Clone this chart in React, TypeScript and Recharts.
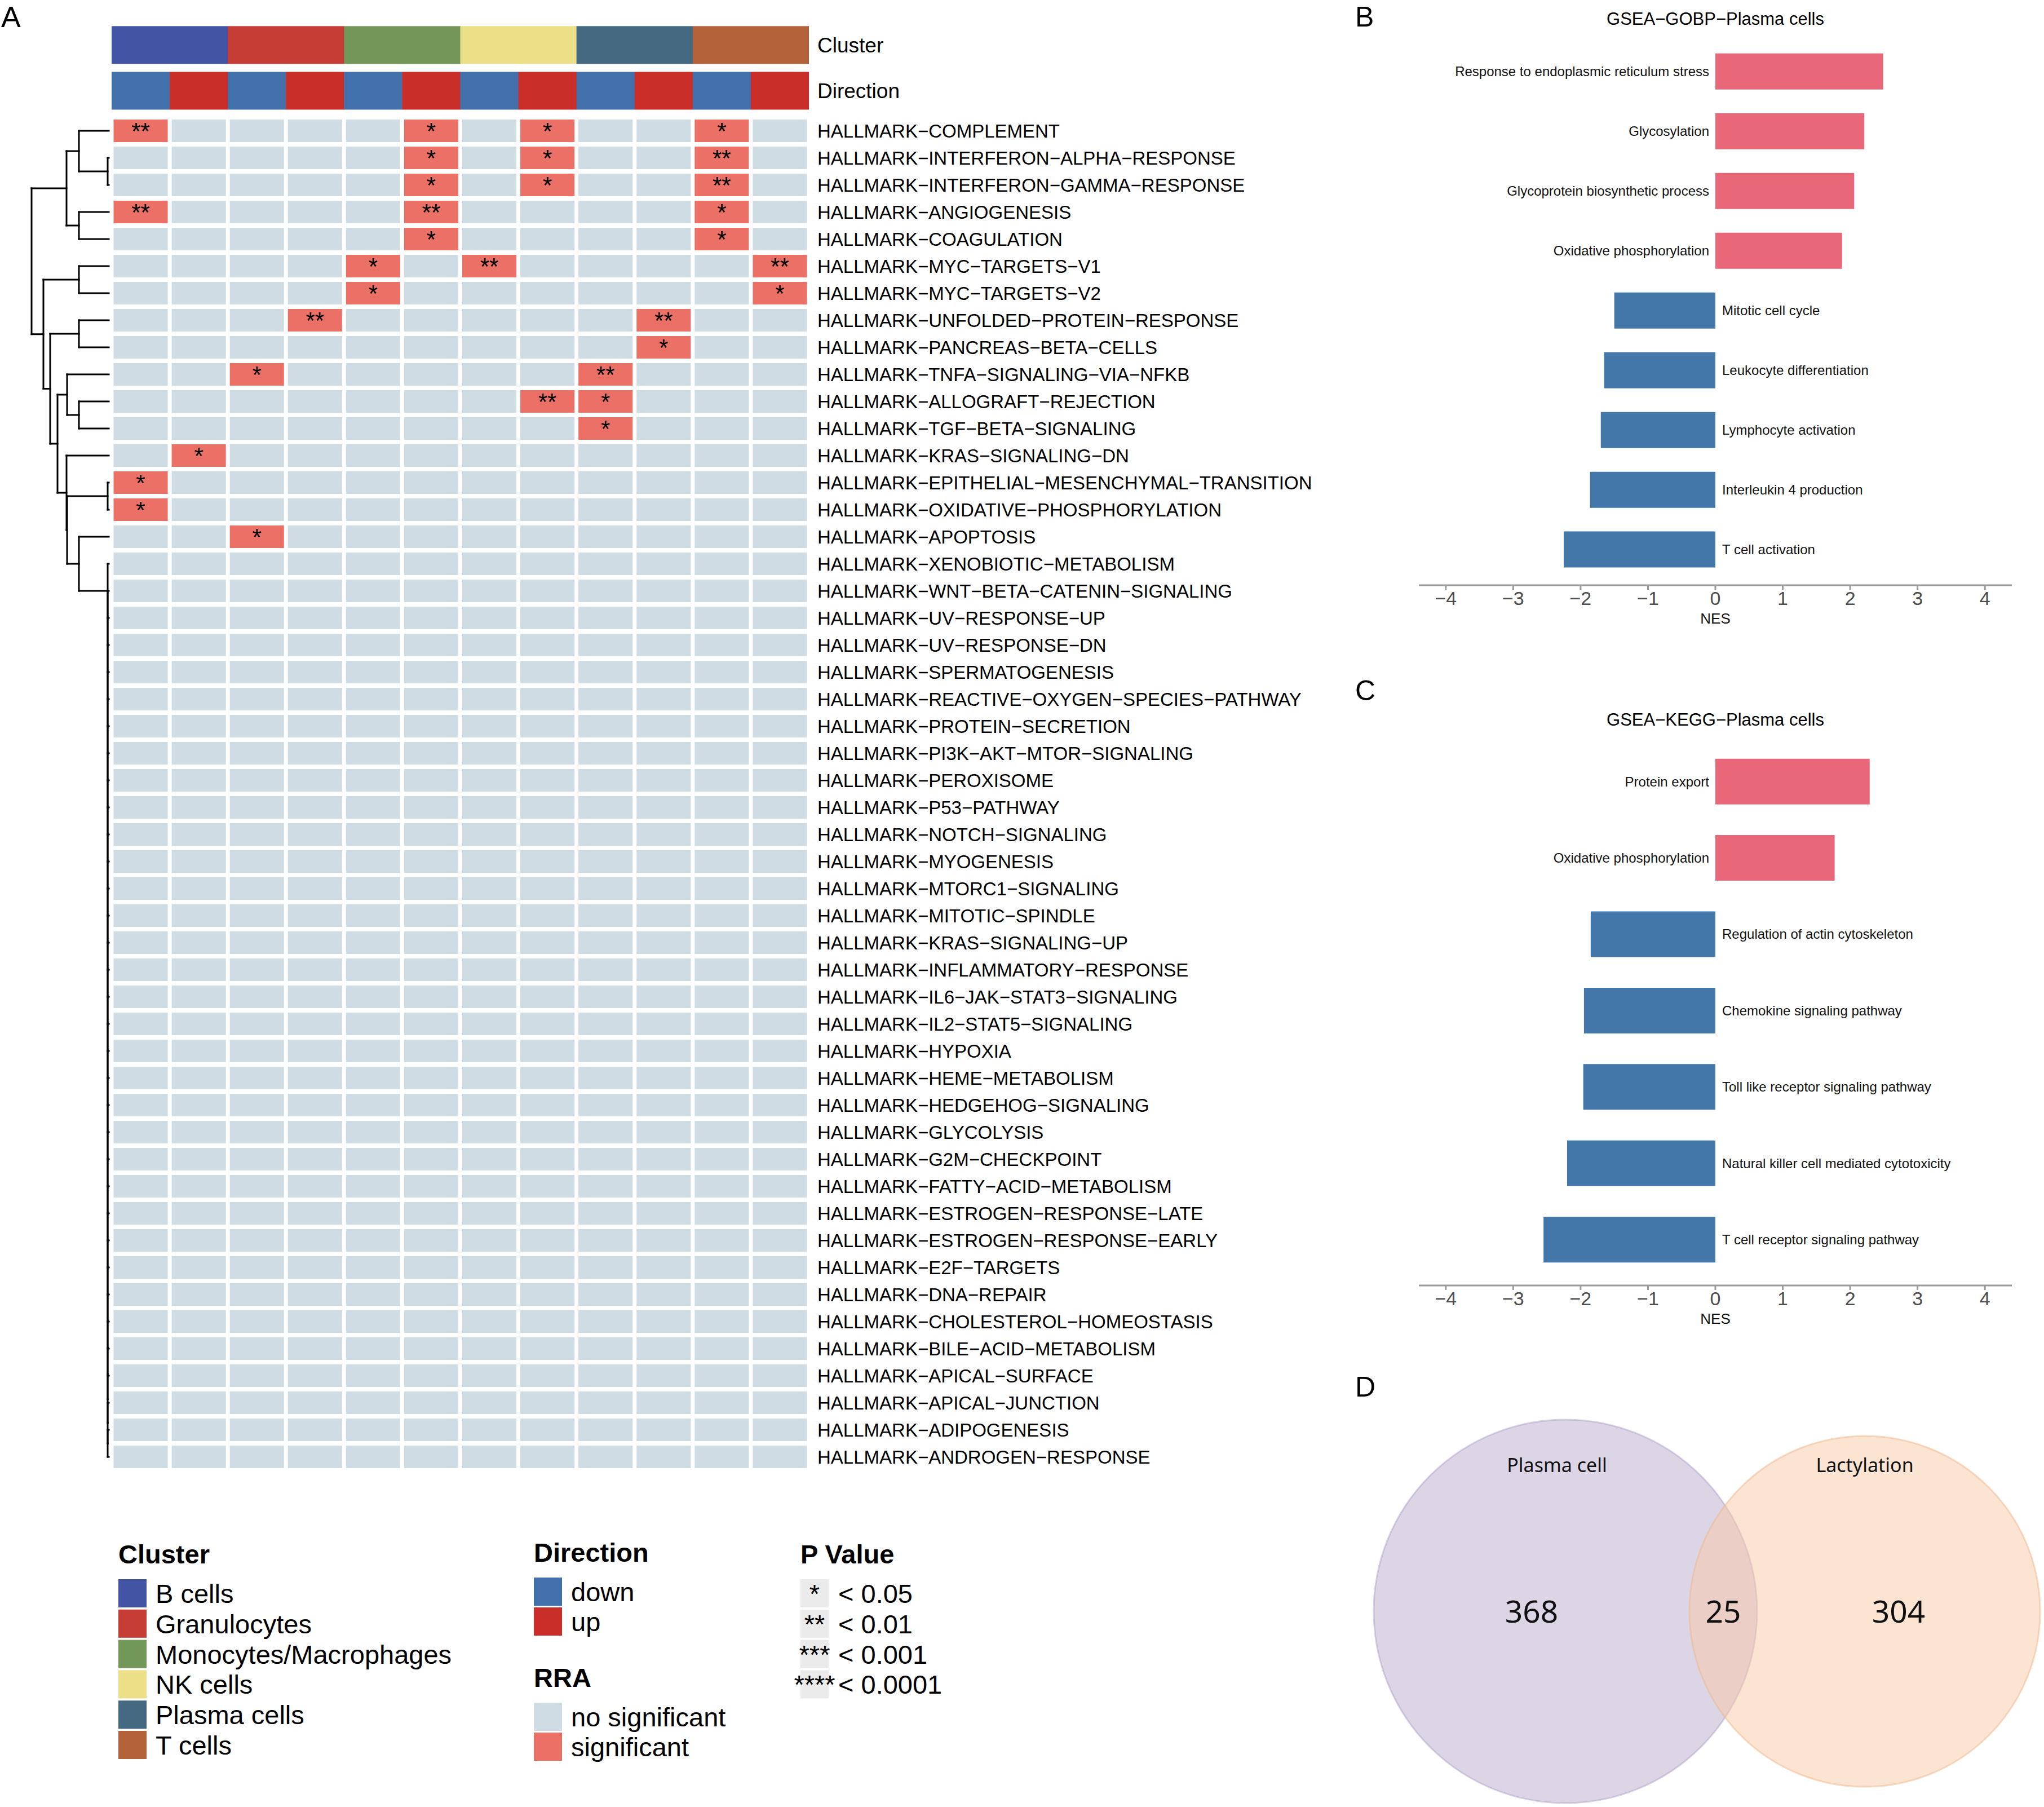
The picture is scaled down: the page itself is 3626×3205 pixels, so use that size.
import React from "react";
import {
  Bar,
  BarChart,
  Cell,
  Label,
  LabelList,
  ReferenceLine,
  Scatter,
  ScatterChart,
  XAxis,
  YAxis,
} from "recharts";

const FONT = "'Liberation Sans', Arial, Helvetica, sans-serif";
const VENN_FONT = "'Noto Sans', 'Open Sans', sans-serif";

// ---------- panel A data ----------
const pathways = [
  "HALLMARK-COMPLEMENT",
  "HALLMARK-INTERFERON-ALPHA-RESPONSE",
  "HALLMARK-INTERFERON-GAMMA-RESPONSE",
  "HALLMARK-ANGIOGENESIS",
  "HALLMARK-COAGULATION",
  "HALLMARK-MYC-TARGETS-V1",
  "HALLMARK-MYC-TARGETS-V2",
  "HALLMARK-UNFOLDED-PROTEIN-RESPONSE",
  "HALLMARK-PANCREAS-BETA-CELLS",
  "HALLMARK-TNFA-SIGNALING-VIA-NFKB",
  "HALLMARK-ALLOGRAFT-REJECTION",
  "HALLMARK-TGF-BETA-SIGNALING",
  "HALLMARK-KRAS-SIGNALING-DN",
  "HALLMARK-EPITHELIAL-MESENCHYMAL-TRANSITION",
  "HALLMARK-OXIDATIVE-PHOSPHORYLATION",
  "HALLMARK-APOPTOSIS",
  "HALLMARK-XENOBIOTIC-METABOLISM",
  "HALLMARK-WNT-BETA-CATENIN-SIGNALING",
  "HALLMARK-UV-RESPONSE-UP",
  "HALLMARK-UV-RESPONSE-DN",
  "HALLMARK-SPERMATOGENESIS",
  "HALLMARK-REACTIVE-OXYGEN-SPECIES-PATHWAY",
  "HALLMARK-PROTEIN-SECRETION",
  "HALLMARK-PI3K-AKT-MTOR-SIGNALING",
  "HALLMARK-PEROXISOME",
  "HALLMARK-P53-PATHWAY",
  "HALLMARK-NOTCH-SIGNALING",
  "HALLMARK-MYOGENESIS",
  "HALLMARK-MTORC1-SIGNALING",
  "HALLMARK-MITOTIC-SPINDLE",
  "HALLMARK-KRAS-SIGNALING-UP",
  "HALLMARK-INFLAMMATORY-RESPONSE",
  "HALLMARK-IL6-JAK-STAT3-SIGNALING",
  "HALLMARK-IL2-STAT5-SIGNALING",
  "HALLMARK-HYPOXIA",
  "HALLMARK-HEME-METABOLISM",
  "HALLMARK-HEDGEHOG-SIGNALING",
  "HALLMARK-GLYCOLYSIS",
  "HALLMARK-G2M-CHECKPOINT",
  "HALLMARK-FATTY-ACID-METABOLISM",
  "HALLMARK-ESTROGEN-RESPONSE-LATE",
  "HALLMARK-ESTROGEN-RESPONSE-EARLY",
  "HALLMARK-E2F-TARGETS",
  "HALLMARK-DNA-REPAIR",
  "HALLMARK-CHOLESTEROL-HOMEOSTASIS",
  "HALLMARK-BILE-ACID-METABOLISM",
  "HALLMARK-APICAL-SURFACE",
  "HALLMARK-APICAL-JUNCTION",
  "HALLMARK-ADIPOGENESIS",
  "HALLMARK-ANDROGEN-RESPONSE",
];

const clusters = ["B cells", "Granulocytes", "Monocytes/Macrophages", "NK cells", "Plasma cells", "T cells"];
const clusterColors = ["#4354A4", "#C53D35", "#739758", "#EBDF88", "#44687F", "#B3623A"];
const directions = ["down", "up"];
const directionColors = ["#4170AB", "#CA2E28"];
const rraLevels = ["no significant", "significant"];
const rraColors = ["#CFDCE4", "#EB7167"];
const pLevels = [
  ["*", "< 0.05"],
  ["**", "< 0.01"],
  ["***", "< 0.001"],
  ["****", "< 0.0001"],
];

// [row, column, stars]; column = cluster * 2 + direction
const sigCells: [number, number, string][] = [
  [0, 0, "**"], [0, 5, "*"], [0, 7, "*"], [0, 10, "*"],
  [1, 5, "*"], [1, 7, "*"], [1, 10, "**"],
  [2, 5, "*"], [2, 7, "*"], [2, 10, "**"],
  [3, 0, "**"], [3, 5, "**"], [3, 10, "*"],
  [4, 5, "*"], [4, 10, "*"],
  [5, 4, "*"], [5, 6, "**"], [5, 11, "**"],
  [6, 4, "*"], [6, 11, "*"],
  [7, 3, "**"], [7, 9, "**"],
  [8, 9, "*"],
  [9, 2, "*"], [9, 8, "**"],
  [10, 7, "**"], [10, 8, "*"],
  [11, 8, "*"],
  [12, 1, "*"],
  [13, 0, "*"],
  [14, 0, "*"],
  [15, 2, "*"],
];

// ---------- panel B / C data ----------
const gobpTerms = [
  "Response to endoplasmic reticulum stress",
  "Glycosylation",
  "Glycoprotein biosynthetic process",
  "Oxidative phosphorylation",
  "Mitotic cell cycle",
  "Leukocyte differentiation",
  "Lymphocyte activation",
  "Interleukin 4 production",
  "T cell activation",
];
const gobpNes = [2.49, 2.21, 2.06, 1.88, -1.5, -1.65, -1.7, -1.86, -2.25];

const keggTerms = [
  "Protein export",
  "Oxidative phosphorylation",
  "Regulation of actin cytoskeleton",
  "Chemokine signaling pathway",
  "Toll like receptor signaling pathway",
  "Natural killer cell mediated cytotoxicity",
  "T cell receptor signaling pathway",
];
const keggNes = [2.29, 1.77, -1.85, -1.95, -1.96, -2.2, -2.55];

const nesTicks = [-4, -3, -2, -1, 0, 1, 2, 3, 4];

// ---------- panel D data ----------
const vennNames = ["Plasma cell", "Lactylation"];
const vennOnly = [368, 304];
const vennShared = 25;

// ---------- layout ----------
const COL_PX = 1237 / 12;
const ROW_PX = 48;
const CLUSTER_ROW = -3.17;
const DIRECTION_ROW = -1.48;
const ANNOT_H = 67;
const ROW_DOMAIN: [number, number] = [-4.5, 49.5];
const HM_TOP = 16;
const HM_H = HM_TOP + ROW_PX * 54;

const minus = (s: string) => s.replace(/-/g, "\u2212");

const cellData = pathways.flatMap((_, r) =>
  clusters.flatMap((_c, k) =>
    directions.map((_d, j) => {
      const c = k * 2 + j;
      const hit = sigCells.find((s) => s[0] === r && s[1] === c);
      return { x: c, y: r, stars: hit ? hit[2] : "" };
    })
  )
);
const clusterBand = clusters.map((_, k) => ({ x: k * 2 + 0.5, y: CLUSTER_ROW, span: 2, fill: clusterColors[k] }));
const directionBand = clusters.flatMap((_, k) =>
  directions.map((_d, j) => ({ x: k * 2 + j, y: DIRECTION_ROW, span: 1, fill: directionColors[j] }))
);

const cellShape = (p: any) => {
  const w = COL_PX - 7;
  const h = ROW_PX - 8;
  const sig = p.payload.stars !== "";
  return (
    <g>
      <rect x={p.cx - w / 2} y={p.cy - h / 2} width={w} height={h} fill={sig ? rraColors[1] : rraColors[0]} />
      {sig && (
        <text x={p.cx} y={p.cy + 15} textAnchor="middle" fontSize={42} fontFamily={FONT} fill="#000">
          {p.payload.stars}
        </text>
      )}
    </g>
  );
};

const annotShape = (p: any) => {
  const w = p.payload.span * COL_PX;
  return <rect x={p.cx - w / 2} y={p.cy - ANNOT_H / 2} width={w + 0.5} height={ANNOT_H} fill={p.payload.fill} />;
};

const rowTick = (p: any) => {
  const v = p.payload.value;
  const annot = v === CLUSTER_ROW ? "Cluster" : v === DIRECTION_ROW ? "Direction" : null;
  const text = annot ?? minus(pathways[v]);
  return (
    <text x={p.x} y={p.y} dy="0.36em" fontSize={annot ? 37 : 33} fontFamily={FONT} fill="#000" textAnchor="start">
      {text}
    </text>
  );
};

// ---------- dendrogram ----------
type Node = { h: number; leaf?: number; kids?: Node[] };
const L = (i: number): Node => ({ h: 0, leaf: i });
const J = (h: number, a: Node, b: Node): Node => ({ h, kids: [a, b] });
let restChain: Node = L(49);
for (let i = 48; i >= 16; i--) restChain = J(0.02, L(i), restChain);
const tree = J(
  1.37,
  J(0.75, J(0.53, L(0), J(0.02, L(1), L(2))), J(0.53, L(3), L(4))),
  J(
    1.16,
    J(0.53, L(5), L(6)),
    J(
      1.04,
      J(0.53, L(7), L(8)),
      J(
        0.91,
        J(0.74, L(9), J(0.53, L(10), L(11))),
        J(0.75, L(12), J(0.74, J(0.02, L(13), L(14)), J(0.53, L(15), restChain)))
      )
    )
  )
);
const segs: { x1: number; y1: number; x2: number; y2: number }[] = [];
const place = (n: Node): number => {
  if (n.leaf !== undefined) return n.leaf;
  const ys = n.kids!.map((k) => {
    const y = place(k);
    segs.push({ x1: k.h, y1: y, x2: n.h, y2: y });
    return y;
  });
  segs.push({ x1: n.h, y1: Math.min(...ys), x2: n.h, y2: Math.max(...ys) });
  return ys.reduce((a, b) => a + b, 0) / ys.length;
};
place(tree);
const leafPts = pathways.map((_, i) => ({ x: 0, y: i }));

// ---------- GSEA bars ----------
const GseaChart = ({ terms, nes, top }: { terms: string[]; nes: number[]; top: number }) => {
  const data = terms.map((t, i) => ({ term: t, nes: nes[i] }));
  const pad = (975 / (terms.length + 0.2)) * 0.1;
  const termLabel = (p: any) => {
    const v = data[p.index].nes;
    const zero = v >= 0 ? Math.min(p.x, p.x + p.width) : Math.max(p.x, p.x + p.width);
    return (
      <text
        x={v >= 0 ? zero - 11 : zero + 12}
        y={p.y + p.height / 2}
        dy="0.35em"
        textAnchor={v >= 0 ? "end" : "start"}
        fontSize={24}
        fontFamily={FONT}
        fill="#111"
      >
        {p.value}
      </text>
    );
  };
  return (
    <BarChart
      width={1226}
      height={top + 975 + 80}
      layout="vertical"
      data={data}
      margin={{ top, right: 57, left: 117, bottom: 0 }}
      barCategoryGap="20%"
    >
      <XAxis
        type="number"
        dataKey="nes"
        domain={[-4.4, 4.4]}
        ticks={nesTicks}
        allowDataOverflow
        tickFormatter={(v: number) => minus(String(v))}
        axisLine={{ stroke: "#9B9B9B", strokeWidth: 3 }}
        tickLine={{ stroke: "#9B9B9B", strokeWidth: 3 }}
        tickSize={8}
        tickMargin={3}
        tick={{ fill: "#4D4D4D", fontSize: 34, fontFamily: FONT }}
        height={80}
      >
        <Label value="NES" position="insideBottom" offset={12} style={{ fontSize: 26, fill: "#111", fontFamily: FONT }} />
      </XAxis>
      <YAxis type="category" dataKey="term" hide padding={{ top: pad, bottom: pad }} />
      <Bar dataKey="nes" isAnimationActive={false}>
        {data.map((d, i) => (
          <Cell key={i} fill={d.nes >= 0 ? "#E8687A" : "#4477A9"} />
        ))}
        <LabelList dataKey="term" content={termLabel} />
      </Bar>
    </BarChart>
  );
};

// ---------- Venn ----------
const vennTotals = vennOnly.map((v) => v + vennShared);
const vennR = vennTotals.map((t) => 17.15 * Math.sqrt(t));
const VENN_LEFT = 37;
const VENN_CY = 378;
const VENN_OVERLAP = 120;
const vennCx = [VENN_LEFT + vennR[0], VENN_LEFT + vennR[0] + vennR[0] + vennR[1] - VENN_OVERLAP];
const vennFills = ["rgba(185,171,205,0.5)", "rgba(249,201,165,0.5)"];
const vennStrokes = ["rgba(170,155,198,0.45)", "rgba(238,184,142,0.5)"];
const vennCircles = vennNames.map((n, i) => ({ x: vennCx[i], y: VENN_CY, r: vennR[i], name: n, i }));
const lensL = vennCx[1] - vennR[1];
const lensR = vennCx[0] + vennR[0];
const vennCounts = [
  { x: (vennCx[0] - vennR[0] + lensL) / 2, y: VENN_CY, text: String(vennOnly[0]) },
  { x: (lensL + lensR) / 2, y: VENN_CY, text: String(vennShared) },
  { x: (lensR + vennCx[1] + vennR[1]) / 2, y: VENN_CY, text: String(vennOnly[1]) },
];
const circleShape = (p: any) => (
  <g>
    <circle cx={p.cx} cy={p.cy} r={p.payload.r} fill={vennFills[p.payload.i]} stroke={vennStrokes[p.payload.i]} strokeWidth={3} />
    <text x={p.cx - (p.payload.i === 0 ? 15 : 0)} y={p.cy - 259} dy="0.35em" textAnchor="middle" fontSize={34} fontFamily={VENN_FONT} fill="#111">
      {p.payload.name}
    </text>
  </g>
);
const countShape = (p: any) => (
  <text x={p.cx} y={p.cy} dy="0.36em" textAnchor="middle" fontSize={55} fontFamily={VENN_FONT} fill="#111">
    {p.payload.text}
  </text>
);

const abs = (left: number, top: number): React.CSSProperties => ({ position: "absolute", left, top });

const App = () => {
  return (
    <div style={{ position: "absolute", left: 0, top: 0, width: 3626, height: 3205, overflow: "hidden", background: "#fff" }}>
      {/* dendrogram */}
      <div style={abs(0, 0)}>
        <ScatterChart width={198} height={HM_H} margin={{ top: HM_TOP, right: 5, left: 0, bottom: 0 }}>
          <XAxis type="number" dataKey="x" domain={[0, 1.93]} reversed hide allowDataOverflow />
          <YAxis type="number" dataKey="y" domain={ROW_DOMAIN} reversed hide allowDataOverflow />
          <Scatter data={leafPts} isAnimationActive={false} shape={() => <g />} />
          {segs.map((s, i) => (
            <ReferenceLine
              key={i}
              segment={[
                { x: s.x1, y: s.y1 },
                { x: s.x2, y: s.y2 },
              ]}
              stroke="#000"
              strokeWidth={3}
              strokeLinecap="square"
              ifOverflow="visible"
            />
          ))}
        </ScatterChart>
      </div>

      {/* heatmap */}
      <div style={abs(0, 0)}>
        <ScatterChart width={198 + 1237 + 900} height={HM_H} margin={{ top: HM_TOP, right: 0, left: 198, bottom: 0 }}>
          <XAxis type="number" dataKey="x" domain={[-0.5, 11.5]} hide allowDataOverflow />
          <YAxis
            type="number"
            dataKey="y"
            orientation="right"
            width={900}
            domain={ROW_DOMAIN}
            reversed
            allowDataOverflow
            ticks={[CLUSTER_ROW, DIRECTION_ROW, ...pathways.map((_, i) => i)]}
            interval={0}
            axisLine={false}
            tickLine={false}
            tickSize={0}
            tickMargin={15}
            tick={rowTick}
          />
          <Scatter data={clusterBand} isAnimationActive={false} shape={annotShape} />
          <Scatter data={directionBand} isAnimationActive={false} shape={annotShape} />
          <Scatter data={cellData} isAnimationActive={false} shape={cellShape} />
        </ScatterChart>
      </div>

      {/* B */}
      <div style={abs(2400, 0)}>
        <GseaChart terms={gobpTerms} nes={gobpNes} top={63} />
      </div>
      {/* C */}
      <div style={abs(2400, 1150)}>
        <GseaChart terms={keggTerms} nes={keggNes} top={155} />
      </div>

      {/* D */}
      <div style={abs(2400, 2480)}>
        <ScatterChart width={1226} height={725} margin={{ top: 0, right: 0, left: 0, bottom: 0 }}>
          <XAxis type="number" dataKey="x" domain={[0, 1226]} hide allowDataOverflow />
          <YAxis type="number" dataKey="y" domain={[0, 725]} reversed hide allowDataOverflow />
          <Scatter data={vennCircles} isAnimationActive={false} shape={circleShape} />
          <Scatter data={vennCounts} isAnimationActive={false} shape={countShape} />
        </ScatterChart>
      </div>

      {/* panel letters, titles, heatmap legend */}
      <svg width={3626} height={3205} style={{ position: "absolute", left: 0, top: 0, pointerEvents: "none" }} fontFamily={FONT}>
        <text x={2} y={48} fontSize={52}>A</text>
        <text x={2404} y={47} fontSize={50}>B</text>
        <text x={2404} y={1242} fontSize={50}>C</text>
        <text x={2404} y={2477} fontSize={50}>D</text>
        <text x={3043} y={44} fontSize={31} textAnchor="middle">GSEA{"\u2212"}GOBP{"\u2212"}Plasma cells</text>
        <text x={3043} y={1287} fontSize={31} textAnchor="middle">GSEA{"\u2212"}KEGG{"\u2212"}Plasma cells</text>

        <g fontSize={47}>
          <text x={210} y={2773} fontWeight="bold">Cluster</text>
          {clusters.map((c, i) => (
            <g key={c}>
              <rect x={210} y={2801 + i * 53.8} width={50} height={50} fill={clusterColors[i]} />
              <text x={276} y={2801 + i * 53.8 + 42}>{c}</text>
            </g>
          ))}

          <text x={947} y={2770} fontWeight="bold">Direction</text>
          {directions.map((d, i) => (
            <g key={d}>
              <rect x={947} y={2798 + i * 53} width={50} height={50} fill={directionColors[i]} />
              <text x={1013} y={2798 + i * 53 + 42}>{d}</text>
            </g>
          ))}

          <text x={947} y={2992} fontWeight="bold">RRA</text>
          {rraLevels.map((d, i) => (
            <g key={d}>
              <rect x={947} y={3020 + i * 53} width={50} height={50} fill={rraColors[i]} />
              <text x={1013} y={3020 + i * 53 + 42}>{d}</text>
            </g>
          ))}

          <text x={1420} y={2773} fontWeight="bold">P Value</text>
          {pLevels.map(([s, lab], i) => (
            <g key={s}>
              <rect x={1420} y={2801 + i * 53.8} width={50} height={50} fill="#EBEBEB" />
              <text x={1445} y={2801 + i * 53.8 + 42} textAnchor="middle">{s}</text>
              <text x={1487} y={2801 + i * 53.8 + 42}>{lab}</text>
            </g>
          ))}
        </g>
      </svg>
    </div>
  );
};

export default App;
